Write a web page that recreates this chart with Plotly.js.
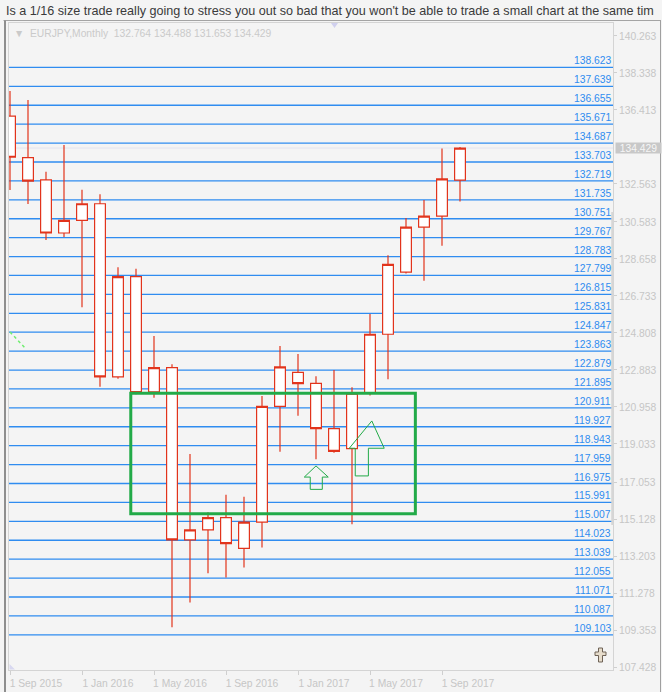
<!DOCTYPE html>
<html><head><meta charset="utf-8">
<script src="https://cdn.plot.ly/plotly-3.0.1.min.js"></script>
<style>html,body{margin:0;padding:0;background:#f4f4f4;overflow:hidden}</style>
</head><body><div id="chart" style="width:662px;height:692px"></div>
<script>
// ---------- data ----------
const titleText = "Is a 1/16 size trade really going to stress you out so bad that you won't be able to trade a small chart at the same tim";
const symbolName = "EURJPY,Monthly";
const months = ["Sep 2015","Oct 2015","Nov 2015","Dec 2015","Jan 2016","Feb 2016","Mar 2016","Apr 2016","May 2016","Jun 2016","Jul 2016","Aug 2016","Sep 2016","Oct 2016","Nov 2016","Dec 2016","Jan 2017","Feb 2017","Mar 2017","Apr 2017","May 2017","Jun 2017","Jul 2017","Aug 2017","Sep 2017","Oct 2017"];
const openV  = [136.09,133.93,132.77,130.01,130.67,131.53,122.52,127.74,121.75,123.00,114.04,114.56,115.20,113.60,114.97,120.99,122.76,122.19,119.83,118.79,121.67,124.74,127.97,130.31,130.89,132.764];
const highV  = [137.40,136.93,133.20,134.59,132.26,132.02,128.23,128.15,124.65,123.18,118.51,115.48,116.39,116.29,121.53,124.13,123.71,122.55,122.88,121.98,125.80,128.85,130.79,131.73,134.41,134.488];
const lowV   = [132.25,131.52,129.65,129.80,126.14,122.01,122.43,121.62,121.44,109.49,110.79,112.30,112.08,112.60,113.64,118.63,120.50,118.24,118.58,114.85,121.55,122.40,127.90,127.53,129.35,131.653];
const closeV = [133.95,132.71,130.01,130.67,131.53,122.52,127.74,121.71,123.00,114.04,114.56,115.20,113.85,114.97,120.99,123.04,122.17,119.83,118.65,121.67,124.74,128.38,130.31,130.89,132.82,134.429];
const xTickMonths = ["Sep 2015","Jan 2016","May 2016","Sep 2016","Jan 2017","May 2017","Sep 2017"];
const yTickVals = [140.263,138.338,136.413,132.563,130.583,128.658,126.733,124.808,122.883,120.958,119.033,117.053,115.128,113.203,111.278,109.353,107.428];
const levels = [138.623,137.639,136.655,135.671,134.687,133.703,132.719,131.735,130.751,129.767,128.783,127.799,126.815,125.831,124.847,123.863,122.879,121.895,120.911,119.927,118.943,117.959,116.975,115.991,115.007,114.023,113.039,112.055,111.071,110.087,109.103];
// drawn zone and arrows (bar index / price)
const zoneX = [6.71, 22.52];
const zoneY = [115.40, 121.67];
const arrow1X = [16.68,16.68,16.35,17.00,17.68,17.35,17.35,16.68];
const arrow1Y = [116.67,117.31,117.31,117.89,117.31,117.31,116.67,116.67];
const arrow2X = [19.18,19.18,18.85,20.10,20.79,19.91,19.91,19.18];
const arrow2Y = [117.37,118.81,118.81,120.23,118.81,118.81,117.37,117.37];
const trendX = [0.00, 0.83];
const trendY = [124.86, 124.03];

// ---------- layout ----------
const W = 662, H = 692, L = 9, R = 49, T = 23, B = 22;
const PW = W - L - R, PH = H - T - B;
const X = px => (px - L) / PW;
const Y = py => (H - B - py) / PH;
const idx = months.map((m, i) => i);
const xTickVals = xTickMonths.map(m => months.indexOf(m));
const last = months.length - 1;
const FONT = "Liberation Sans, Arial, sans-serif";
const GRAY = "#c6c6c6";
const BLUE = "#2f8cf0";
const GREEN = "#22aa48";

const candle = {
  type: 'candlestick', x: idx, open: openV, high: highV, low: lowV, close: closeV,
  increasing: {line: {color: '#e2341c', width: 1.2}, fillcolor: '#ffffff'},
  decreasing: {line: {color: '#e2341c', width: 1.2}, fillcolor: '#ffffff'},
  whiskerwidth: 0, hoverinfo: 'skip', showlegend: false
};
const arr1 = {type:'scatter', mode:'lines', x: arrow1X, y: arrow1Y, line:{color: GREEN, width: 1}, hoverinfo:'skip', showlegend:false};
const arr2 = {type:'scatter', mode:'lines', x: arrow2X, y: arrow2Y, line:{color: GREEN, width: 1}, hoverinfo:'skip', showlegend:false};
const trend = {type:'scatter', mode:'lines', x: trendX, y: trendY, line:{color: '#70ee70', width: 1.5, dash:'dot'}, hoverinfo:'skip', showlegend:false};

const shapes = [];
levels.forEach(v => shapes.push({type:'line', xref:'paper', yref:'y', x0:0, x1:1, y0:v, y1:v, line:{color: BLUE, width:1.3}, layer:'below'}));
shapes.push({type:'line', xref:'paper', yref:'y', x0:0, x1:1, y0:closeV[last], y1:closeV[last], line:{color:'#e3e3ee', width:1}, layer:'below'});
shapes.push({type:'rect', xref:'x', yref:'y', x0: zoneX[0], x1: zoneX[1], y0: zoneY[0], y1: zoneY[1], line:{color: GREEN, width: 3}, layer:'above'});
// window frame
shapes.push({type:'line', xref:'paper', yref:'paper', x0:X(3.5), x1:X(661), y0:Y(20.5), y1:Y(20.5), line:{color:'#a4a4a4', width:1}});
shapes.push({type:'line', xref:'paper', yref:'paper', x0:X(5), x1:X(5), y0:Y(20.5), y1:Y(692), line:{color:'#8e8e8e', width:2}});
shapes.push({type:'line', xref:'paper', yref:'paper', x0:X(660.5), x1:X(660.5), y0:Y(20.5), y1:Y(692), line:{color:'#a0a0a0', width:1}});
// scroll marker on the right frame
shapes.push({type:'line', xref:'paper', yref:'paper', x0:X(612.5), x1:X(612.5), y0:Y(212), y1:Y(525), line:{color:'#d6d6d6', width:2.5}});
// small markers
shapes.push({type:'path', xref:'paper', yref:'paper', path:`M${X(331)},${Y(23)} L${X(338)},${Y(23)} L${X(334.5)},${Y(28)} Z`, fillcolor:'#d0d0ee', line:{width:0}});
shapes.push({type:'path', xref:'paper', yref:'paper', path:`M${X(9.5)},${Y(664)} L${X(9.5)},${Y(669.5)} L${X(15)},${Y(669.5)} Z`, fillcolor:'#d8d8f0', line:{width:0}});
// cross icon
const cx = 600.5, cy = 655;
const cross = [[-2,-7],[2,-7],[2,-3],[5.5,-3],[5.5,0.5],[2,0.5],[2,7],[-2,7],[-2,0.5],[-5.5,0.5],[-5.5,-3],[-2,-3]];
shapes.push({type:'path', xref:'paper', yref:'paper', path: 'M' + cross.map(p => `${X(cx+p[0])},${Y(cy+p[1])}`).join(' L') + ' Z', fillcolor:'#e6dccb', line:{color:'#6e6256', width:1}});

const annotations = [];
levels.forEach(v => annotations.push({xref:'paper', yref:'y', x:1, y:v, xanchor:'right', yanchor:'bottom', yshift:-1, text: v.toFixed(3), showarrow:false, font:{family: FONT, size:10.3, color: BLUE}}));
annotations.push({xref:'paper', yref:'paper', x:X(3.5), y:Y(11.5), xanchor:'left', yanchor:'middle', text: titleText, showarrow:false, font:{family: FONT, size:12.6, color:'#3a3a3a'}});
const ohlc = [openV[last], highV[last], lowV[last], closeV[last]].map(v => v.toFixed(3)).join(' ');
annotations.push({xref:'paper', yref:'paper', x:X(12), y:Y(33), xanchor:'left', yanchor:'middle', text: '\u25BC  ' + symbolName + '  ' + ohlc, showarrow:false, font:{family: FONT, size:10.3, color:'#cacaca'}});
annotations.push({xref:'paper', yref:'y', x:X(615), y:closeV[last], xanchor:'left', yanchor:'middle', text: closeV[last].toFixed(3), showarrow:false, bgcolor:'#c8c8c8', width:43, height:8, borderpad:1, font:{family: FONT, size:10.3, color:'#f6f6f6'}});

const layout = {
  width: W, height: H,
  margin: {l: L, r: R, t: T, b: B, pad: 0},
  paper_bgcolor: '#f4f4f4', plot_bgcolor: '#f4f4f4',
  showlegend: false,
  boxgap: 0.4, boxgroupgap: 0,
  xaxis: {
    range: [-1/18, (613 - 10) / 18], rangeslider: {visible: false},
    tickmode: 'array', tickvals: xTickVals, ticktext: xTickMonths.map(m => '1 ' + m),
    ticks: 'outside', ticklen: 4, tickcolor: '#cfcfcf', ticklabelshift: 26,
    tickfont: {family: FONT, size: 10.3, color: GRAY},
    showgrid: false, zeroline: false, showline: true, mirror: true, linecolor: '#d4d4d4', linewidth: 1,
    fixedrange: true
  },
  yaxis: {
    side: 'right', range: [107.272, 140.935],
    tickmode: 'array', tickvals: yTickVals, ticktext: yTickVals.map(v => v.toFixed(3)),
    ticks: 'outside', ticklen: 3, tickcolor: '#cfcfcf',
    tickfont: {family: FONT, size: 10.3, color: GRAY},
    showgrid: false, zeroline: false, showline: true, mirror: true, linecolor: '#d4d4d4', linewidth: 1,
    fixedrange: true
  },
  shapes: shapes,
  annotations: annotations
};
Plotly.newPlot('chart', [candle, arr1, arr2, trend], layout, {displayModeBar: false, staticPlot: true});
</script></body></html>
